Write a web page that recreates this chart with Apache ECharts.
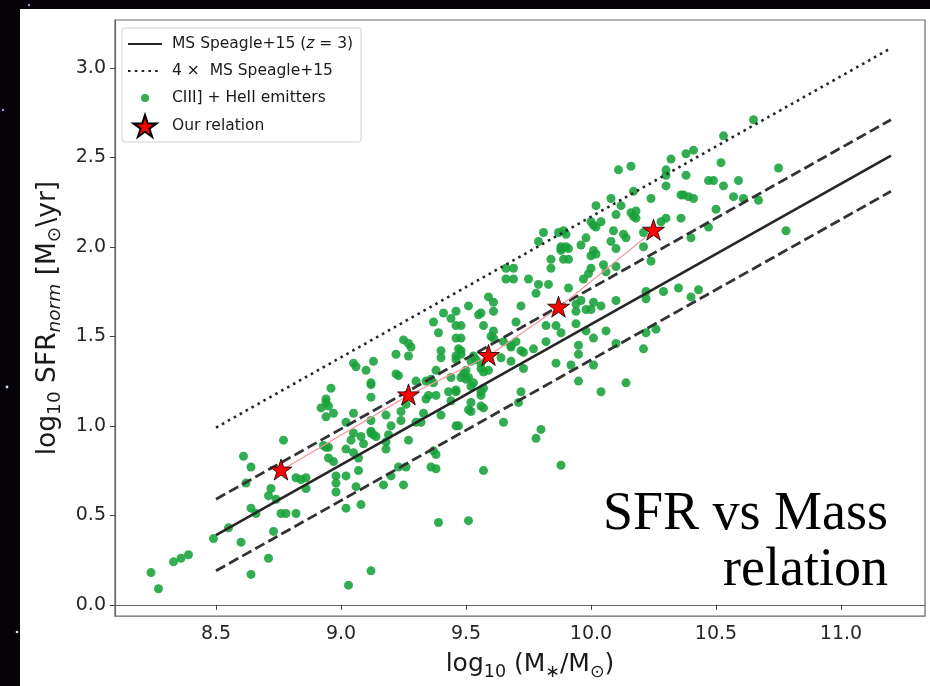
<!DOCTYPE html>
<html><head><meta charset="utf-8">
<script src="https://cdn.jsdelivr.net/npm/echarts@6/dist/echarts.min.js"></script>
<style>html,body{margin:0;padding:0;background:#050208;} #c{width:930px;height:686px;}</style>
</head><body><div id="c"></div>
<script>
// ---------- data ----------
const massTicks = [8.5, 9.0, 9.5, 10.0, 10.5, 11.0];
const sfrTicks = [0.0, 0.5, 1.0, 1.5, 2.0, 2.5, 3.0];

// Main sequence (Speagle+15, z=3) and offsets, end points
const msMass = [8.5, 11.2];
const msSfr = [0.39, 2.51];
const msUpperSfr = [0.59, 2.71];
const msLowerSfr = [0.19, 2.31];
const ms4Sfr = [0.99, 3.11];

// "Our relation" stars
const relMass = [8.76, 9.27, 9.59, 9.87, 10.25];
const relSfr = [0.75, 1.17, 1.39, 1.66, 2.09];

// CIII] + HeII emitters [log M, log SFR]
const emittersLow = [
 [8.24,0.18],[8.27,0.09],[8.33,0.24],[8.36,0.26],[8.39,0.28],[8.49,0.37],[8.55,0.43],[8.60,0.35],[8.64,0.17],
 [8.71,0.26],[8.73,0.41],[8.64,0.54],[8.66,0.51],[8.71,0.61],[8.72,0.65],[8.74,0.59],[8.76,0.51],[8.78,0.51],
 [8.82,0.51],[8.62,0.68],[8.61,0.83],[8.64,0.77],[8.77,0.92],[8.82,0.71],[8.84,0.70],[8.86,0.71],[8.86,0.65]
];
const emittersMid = [
 [9.41,1.63],[9.46,1.64],[9.44,1.60],[9.37,1.58],[9.39,1.52],[9.46,1.56],[9.46,1.49],[9.25,1.48],[9.27,1.46],
 [9.28,1.44],[9.22,1.40],[9.27,1.39],[9.40,1.42],[9.40,1.38],[9.46,1.39],[9.13,1.36],[9.05,1.35],[9.06,1.33],
 [9.10,1.31],[9.22,1.29],[9.23,1.28],[9.38,1.31],[9.12,1.24],[9.12,1.23],[9.30,1.25],[8.96,1.21],[9.12,1.16],
 [9.34,1.25],[9.36,1.26],[9.37,1.24],[8.94,1.15],[8.94,1.13],[8.92,1.10],[8.95,1.11],[8.97,1.07],[8.94,1.05],
 [9.05,1.07],[9.24,1.08],[9.18,1.06],[9.26,1.12],[9.35,1.17],[9.34,1.15],[9.38,1.17],[9.40,1.06],[9.33,1.07],
 [9.44,1.14],[9.46,1.19],[9.02,1.02],[9.12,1.03],[9.24,1.03],[9.30,1.02],[9.32,1.02],[9.20,1.00],[9.12,0.97],
 [9.13,0.95],[9.12,0.96],[9.14,0.94],[9.05,0.96],[9.08,0.94],[9.09,0.90],[9.04,0.92],[9.19,0.95],[9.18,0.91],
 [9.18,0.87],[8.94,0.88],[8.95,0.88],[8.93,0.89],[9.02,0.87],[9.05,0.85],[9.27,0.92],[9.46,1.00],[8.95,0.82],
 [8.97,0.80],[9.07,0.82],[8.98,0.72],[8.98,0.68],[8.98,0.63],[9.07,0.75],[9.02,0.72],[9.06,0.66],[9.17,0.67],
 [9.20,0.72],[9.23,0.77],[9.26,0.77],[9.25,0.67],[9.36,0.77],[9.38,0.76],[9.37,0.86],[9.38,0.84],[9.02,0.54],
 [9.08,0.56],[9.39,0.46],[9.12,0.19],[9.03,0.11]
];
const emittersUpperMid = [
 [9.81,2.08],[9.87,2.08],[9.89,2.09],[9.90,2.07],[9.79,2.03],[9.88,2.00],[9.88,1.99],[9.90,2.00],[9.91,1.99],
 [9.88,1.98],[9.96,2.01],[9.98,2.05],[9.84,1.93],[9.89,1.93],[9.91,1.93],[9.84,1.88],[9.66,1.88],[9.69,1.88],
 [9.66,1.82],[9.69,1.82],[9.75,1.82],[9.79,1.79],[9.83,1.79],[9.78,1.74],[9.91,1.77],[9.97,1.82],[9.59,1.72],
 [9.61,1.69],[9.51,1.67],[9.61,1.64],[9.72,1.67],[9.56,1.63],[9.55,1.62],[9.48,1.56],[9.57,1.56],[9.70,1.58],
 [9.61,1.53],[9.60,1.50],[9.61,1.49],[9.48,1.49],[9.65,1.47],[9.70,1.47],[9.82,1.56],[9.86,1.56],[9.88,1.52],
 [9.94,1.68],[9.94,1.64],[9.98,1.65],[9.94,1.57],[9.98,1.53],[9.82,1.47],[9.72,1.42],[9.73,1.41],[9.68,1.45],
 [9.68,1.44],[9.77,1.43],[9.95,1.45],[9.95,1.40],[9.47,1.43],[9.48,1.42],[9.48,1.40],[9.46,1.37],[9.53,1.39],
 [9.54,1.37],[9.52,1.36],[9.64,1.38],[9.68,1.36],[9.56,1.35],[9.56,1.32],[9.57,1.30],[9.59,1.31],[9.50,1.31],
 [9.49,1.29],[9.48,1.27],[9.51,1.27],[9.50,1.26],[9.44,1.27],[9.73,1.32],[9.86,1.35],[9.92,1.34],[9.95,1.25],
 [9.53,1.24],[9.52,1.22],[9.46,1.20],[9.43,1.19],[9.57,1.21],[9.56,1.19],[9.56,1.17],[9.72,1.19],[9.52,1.13],
 [9.56,1.11],[9.57,1.10],[9.51,1.09],[9.52,1.08],[9.71,1.13],[9.65,1.02],[9.47,1.00],[9.80,0.98],[9.78,0.93],
 [9.57,0.75],[9.88,0.78],[9.51,0.47]
];
const emittersHigh = [
 [10.41,2.54],[10.38,2.52],[10.32,2.49],[10.16,2.45],[10.11,2.43],[10.30,2.43],[10.30,2.40],[10.38,2.40],
 [10.47,2.37],[10.30,2.34],[10.17,2.31],[10.08,2.27],[10.24,2.27],[10.36,2.29],[10.37,2.29],[10.39,2.28],
 [10.41,2.27],[10.02,2.23],[10.12,2.23],[10.10,2.18],[10.16,2.19],[10.18,2.20],[10.17,2.17],[10.18,2.16],
 [10.36,2.16],[10.30,2.16],[10.28,2.14],[10.00,2.14],[10.01,2.12],[10.04,2.14],[10.02,2.11],[10.09,2.09],
 [10.13,2.07],[10.14,2.05],[10.21,2.08],[10.08,2.03],[10.10,1.99],[10.21,2.00],[10.40,2.05],[10.47,2.11],
 [10.01,1.98],[10.00,1.95],[10.02,1.96],[10.05,1.90],[10.10,1.89],[10.24,1.92],[10.00,1.88],[9.99,1.85],
 [10.06,1.86],[10.01,1.69],[10.00,1.65],[10.04,1.67],[10.10,1.70],[9.96,1.70],[10.22,1.75],[10.22,1.71],
 [10.29,1.75],[10.35,1.77],[10.43,1.76],[10.40,1.72],[10.06,1.53],[10.01,1.49],[10.22,1.52],[10.26,1.54],
 [10.10,1.46],[10.21,1.43],[10.01,1.34],[10.14,1.24],[10.04,1.19]
];
const emittersTop = [
 [10.65,2.71],[10.53,2.62],[10.52,2.47],[10.75,2.44],[10.49,2.37],[10.59,2.37],[10.53,2.34],[10.57,2.28],
 [10.61,2.27],[10.67,2.26],[10.50,2.21],[10.78,2.09]
];

// ---------- chart ----------
const STAR = 'path://M0,-1 L0.2245,-0.309 L0.951,-0.309 L0.3633,0.118 L0.5878,0.809 L0,0.382 L-0.5878,0.809 L-0.3633,0.118 L-0.951,-0.309 L-0.2245,-0.309 Z';
const STAR_ICON = 'path://M-1.398,-1 M1.398,0.809 M0,-1 L0.2245,-0.309 L0.951,-0.309 L0.3633,0.118 L0.5878,0.809 L0,0.382 L-0.5878,0.809 L-0.3633,0.118 L-0.951,-0.309 L-0.2245,-0.309 Z';
const DOT_ICON = 'path://M-4.25,-2.75 M4.25,2.75 M1,0 A1,1 0 1,1 -1,0 A1,1 0 1,1 1,0 Z';

const zip = (xs, ys) => xs.map((x, i) => [x, ys[i]]);
const emitters = [].concat(emittersLow, emittersMid, emittersUpperMid, emittersHigh, emittersTop);

const FONT = 'DejaVu Sans';
const nameMS = 'MS Speagle+15 (z = 3)';
const name4 = '4 ×  MS Speagle+15';
const nameEm = 'CIII] + HeII emitters';
const nameRel = 'Our relation';
const INK = '#1a1a1a';

const chart = echarts.init(document.getElementById('c'), null, {renderer: 'canvas'});
chart.setOption({
  animation: false,
  backgroundColor: '#050208',
  graphic: [
    {type: 'rect', z: -10, silent: true, shape: {x: 20, y: 9, width: 910, height: 677}, style: {fill: '#ffffff'}},
    {type: 'circle', z: -10, silent: true, shape: {cx: 29, cy: 5, r: 1.2}, style: {fill: '#9a8fd0'}},
    {type: 'circle', z: -10, silent: true, shape: {cx: 3, cy: 110, r: 1.2}, style: {fill: '#9a8fd0'}},
    {type: 'circle', z: -10, silent: true, shape: {cx: 7, cy: 387, r: 1.4}, style: {fill: '#e0dcff'}},
    {type: 'circle', z: -10, silent: true, shape: {cx: 17, cy: 632, r: 1.3}, style: {fill: '#e6e6e6'}},
    {type: 'text', z: 10, silent: true, x: 888, y: 515,
      style: {text: 'SFR vs Mass', font: '54px "Liberation Serif"', fill: '#000', align: 'right', verticalAlign: 'middle'}},
    {type: 'text', z: 10, silent: true, x: 888, y: 571,
      style: {text: 'relation', font: '54px "Liberation Serif"', fill: '#000', align: 'right', verticalAlign: 'middle'}}
  ],
  grid: {left: 115, right: 5, top: 20, bottom: 68, show: true, borderColor: '#666', borderWidth: 1.2, backgroundColor: 'transparent'},
  legend: {
    orient: 'vertical', left: 122, top: 28,
    itemWidth: 34, itemHeight: 22, itemGap: 5,
    padding: [5, 8, 4, 5],
    backgroundColor: 'rgba(255,255,255,0.85)', borderColor: '#d0d0d0', borderWidth: 1, borderRadius: 3,
    textStyle: {fontFamily: FONT, fontSize: 15.5, color: INK, lineHeight: 22, padding: [0, 0, 0, 5],
      rich: {it: {fontFamily: FONT, fontSize: 15.5, fontStyle: 'italic', color: INK, lineHeight: 22}}},
    formatter: n => n === nameMS ? 'MS Speagle+15 ({it|z} = 3)' : n,
    data: [
      {name: nameMS, itemStyle: {opacity: 0}},
      {name: name4, itemStyle: {opacity: 0}},
      {name: nameEm, icon: DOT_ICON},
      {name: nameRel, icon: STAR_ICON}
    ]
  },
  xAxis: {
    type: 'value', min: 8.096, max: 11.336,
    name: 'log{s|10} (M{s|∗}/M{s|⊙})', nameLocation: 'middle', nameGap: 26,
    nameTextStyle: {fontFamily: FONT, fontSize: 25, color: INK, lineHeight: 33, padding: [0, 0, 0, 20],
      rich: {s: {fontFamily: FONT, fontSize: 17.5, color: INK, verticalAlign: 'bottom', lineHeight: 18}}},
    axisLine: {show: true, lineStyle: {color: '#666', width: 1.2}},
    axisTick: {show: true, length: 5, lineStyle: {color: '#444'}, customValues: massTicks},
    axisLabel: {show: true, margin: 8, fontFamily: FONT, fontSize: 19, color: '#262626', customValues: massTicks,
      formatter: v => v.toFixed(1)},
    splitLine: {show: false}
  },
  yAxis: {
    type: 'value', min: -0.063, max: 3.267,
    name: 'log{s|10} SFR{si|norm} [M{s|⊙}\\yr]', nameLocation: 'middle', nameRotate: 90, nameGap: 37,
    nameTextStyle: {fontFamily: FONT, fontSize: 26.5, color: INK, lineHeight: 34,
      rich: {s: {fontFamily: FONT, fontSize: 18.5, color: INK, verticalAlign: 'bottom', lineHeight: 19},
             si: {fontFamily: FONT, fontSize: 18.5, fontStyle: 'italic', color: INK, verticalAlign: 'bottom', lineHeight: 19}}},
    axisLine: {show: true, lineStyle: {color: '#666', width: 1.2}},
    axisTick: {show: true, length: 5, lineStyle: {color: '#444'}, customValues: sfrTicks},
    axisLabel: {show: true, margin: 9, fontFamily: FONT, fontSize: 19, color: '#262626', customValues: sfrTicks,
      formatter: v => v.toFixed(1)},
    splitLine: {show: false}
  },
  series: [
    {name: nameEm, type: 'scatter', data: emitters, symbol: 'circle', symbolSize: 9,
      itemStyle: {color: '#17a23a', opacity: 0.88}, z: 2},
    {name: nameMS, type: 'line', data: zip(msMass, msSfr), symbol: 'none', color: '#262626',
      lineStyle: {color: '#262626', width: 2.6}, z: 3},
    {name: name4, type: 'line', data: zip(msMass, ms4Sfr), symbol: 'none', color: '#262626',
      lineStyle: {color: '#262626', width: 2.6, type: [2.6, 4.2]}, z: 3},
    {name: 'MS +0.2 dex', type: 'line', data: zip(msMass, msUpperSfr), symbol: 'none', color: '#333',
      lineStyle: {color: '#333', width: 2.8, type: [10.5, 4.5]}, z: 3},
    {name: 'MS -0.2 dex', type: 'line', data: zip(msMass, msLowerSfr), symbol: 'none', color: '#333',
      lineStyle: {color: '#333', width: 2.8, type: [10.5, 4.5]}, z: 3},
    {name: nameRel, type: 'line', data: zip(relMass, relSfr), symbol: STAR, symbolSize: [22, 21],
      symbolOffset: [0, -1], showSymbol: true,
      lineStyle: {color: '#f29a9a', width: 1.2},
      itemStyle: {color: '#ff0000', borderColor: '#000', borderWidth: 0.8}, z: 4}
  ]
});
</script></body></html>
